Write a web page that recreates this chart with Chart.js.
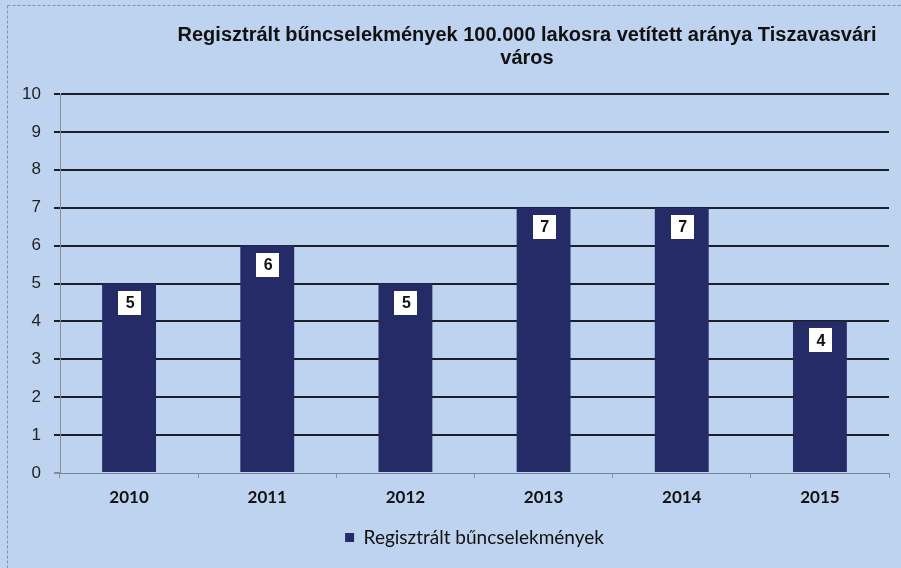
<!DOCTYPE html>
<html>
<head>
<meta charset="utf-8">
<script src="https://cdn.jsdelivr.net/npm/chart.js@4.4.1/dist/chart.umd.min.js"></script>
<style>
	html, body { margin: 0; padding: 0; background: #bdd3ef; }
	canvas { display: block; }
</style>
</head>
<body>
<canvas id="myChart" width="901" height="568"></canvas>
<script>
var years = ['2010', '2011', '2012', '2013', '2014', '2015'];
var values = [5, 6, 5, 7, 7, 4];
var seriesName = 'Regisztrált bűncselekmények';
var titleLines = ['Regisztrált bűncselekmények 100.000 lakosra vetített aránya Tiszavasvári', 'város'];

// background + scan border
var bgPlugin = {
	id: 'bg',
	beforeDraw: function(chart){
		var c = chart.ctx;
		c.save();
		c.fillStyle = '#bdd3ef';
		c.fillRect(0, 0, chart.width, chart.height);
		c.strokeStyle = '#8c8f96';
		c.lineWidth = 1;
		c.setLineDash([3, 2]);
		c.beginPath();
		c.moveTo(7.5, 5.5);
		c.lineTo(chart.width, 5.5);
		c.moveTo(7.5, 5.5);
		c.lineTo(7.5, chart.height);
		c.stroke();
		c.restore();
	}
};

// title drawn off-center like the original
var titlePlugin = {
	id: 'offTitle',
	afterDraw: function(chart){
		var c = chart.ctx;
		c.save();
		c.font = 'bold 20px "Liberation Sans", Arial, sans-serif';
		c.fillStyle = '#111';
		c.textAlign = 'center';
		c.textBaseline = 'middle';
		c.fillText(titleLines[0], 527, 35);
		c.fillText(titleLines[1], 527, 58);
		c.restore();
	}
};

// white value boxes inside the bars
var labelPlugin = {
	id: 'valueBoxes',
	afterDatasetsDraw: function(chart){
		var c = chart.ctx;
		var meta = chart.getDatasetMeta(0);
		c.save();
		c.font = 'bold 16px "Liberation Sans", Arial, sans-serif';
		c.textAlign = 'center';
		c.textBaseline = 'middle';
		meta.data.forEach(function(bar, i){
			var x = bar.x, y = bar.y + 7;
			c.fillStyle = '#ffffff';
			c.fillRect(Math.round(x - 11), Math.round(y), 23, 24);
			c.fillStyle = '#111';
			c.fillText(values[i], x + 1, y + 13);
		});
		c.restore();
	}
};

var ctx = document.getElementById('myChart');
var myChart = new Chart(ctx, {
	type: 'bar',
	data: {
		labels: years,
		datasets: [{
			label: seriesName,
			data: values,
			backgroundColor: '#252b67',
			borderWidth: 0,
			barPercentage: 0.39,
			categoryPercentage: 1
		}]
	},
	options: {
		responsive: false,
		animation: false,
		layout: {
			padding: { top: 94, right: 12, bottom: 11, left: 0 }
		},
		plugins: {
			title: { display: false },
			tooltip: { enabled: false },
			legend: {
				position: 'bottom',
				fullSize: false,
				labels: {
					boxWidth: 9,
					boxHeight: 9,
					padding: 10,
					color: '#111',
					font: { family: 'Lato, "Open Sans", sans-serif', size: 19 }
				}
			}
		},
		scales: {
			x: {
				grid: {
					drawOnChartArea: false,
					drawTicks: true,
					tickLength: 5,
					tickColor: '#8a8e98'
				},
				border: { display: true, color: '#7d828e', width: 1, dash: [2, 1] },
				ticks: {
					padding: 9,
					color: '#111',
					font: { family: 'Lato, "Open Sans", sans-serif', size: 17, weight: 'bold' }
				},
				afterFit: function(scale){ scale.height = 45; }
			},
			y: {
				min: 0,
				max: 10,
				ticks: {
					stepSize: 1,
					padding: 13,
					color: '#222',
					font: { family: '"Liberation Sans", Arial, sans-serif', size: 17 }
				},
				grid: {
					color: function(c){ return c.tick && c.tick.value === 0 ? 'rgba(0,0,0,0)' : '#1c1f26'; },
					tickColor: function(c){ return c.tick && c.tick.value === 0 ? '#8a8e98' : '#1c1f26'; },
					lineWidth: 2,
					drawTicks: true,
					tickLength: 6
				},
				border: { display: true, color: '#8a8e98', width: 1 },
				afterFit: function(scale){ scale.width = 60; }
			}
		}
	},
	plugins: [bgPlugin, titlePlugin, labelPlugin]
});
</script>
</body>
</html>
